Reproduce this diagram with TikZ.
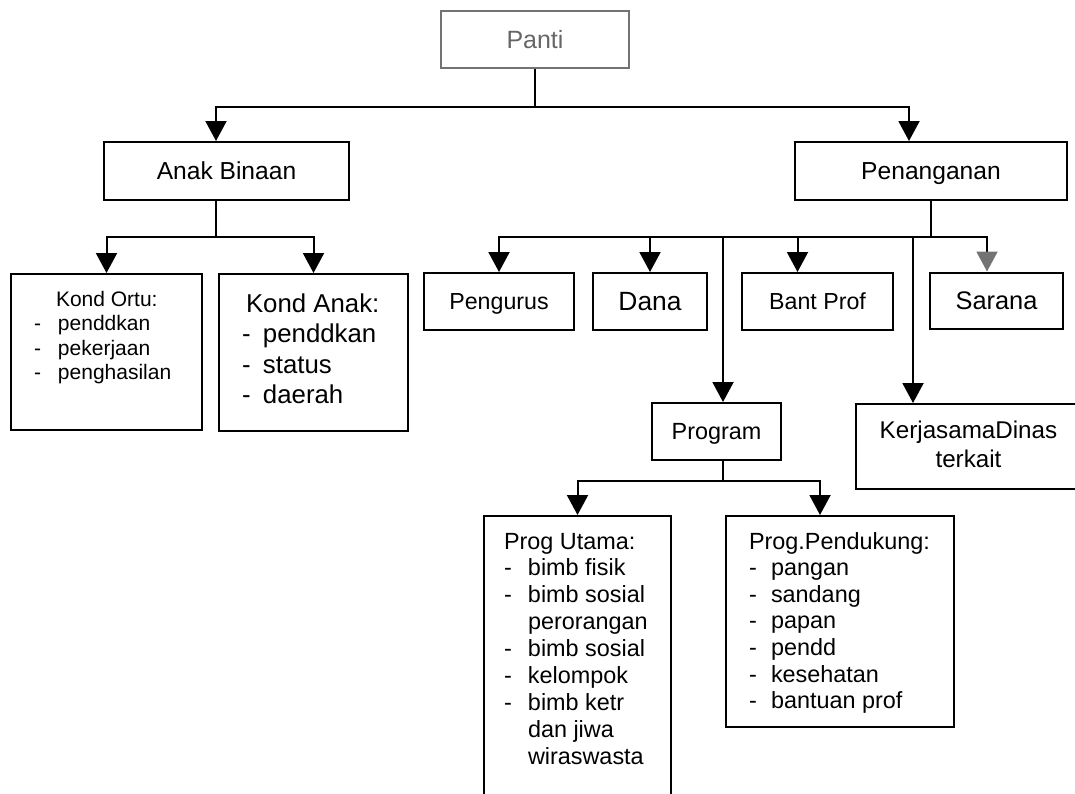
\documentclass[tikz,border=0pt]{standalone}
\usepackage{fontspec}
\setmainfont{Liberation Sans}
\usetikzlibrary{arrows.meta}
\newcommand{\li}[2][12pt]{\makebox[#1][l]{-}#2}

\begin{document}
\begin{tikzpicture}[x=0.5pt, y=-0.5pt,
    box/.style={draw, line width=1pt, inner sep=0pt, text depth=0pt, font=\fontsize{12.3pt}{14pt}\selectfont},
    listbox/.style={draw, line width=1pt, inner sep=0pt, anchor=north west},
    wire/.style={line width=1pt},
    arrow/.style={wire, -{Triangle[width=10.5pt,length=10pt]}}
    ]
  \useasboundingbox (0,0) rectangle (1075,793);

  % top
  \node[box, draw=black!55, text=black!60, minimum width=94pt, minimum height=28.5pt,
        font=\fontsize{12.5pt}{14pt}\selectfont] (panti) at (535,39.5) {Panti};
  \node[box, minimum width=122.5pt, minimum height=29pt] (anak) at (226.5,171) {Anak Binaan};
  \node[box, minimum width=136pt, minimum height=29pt] (penang) at (931,171) {Penanganan};

  % anak binaan
  \node[listbox] (ortu) at (10,273) {\parbox[c][78pt][t]{95.5pt}{\raggedright\leftskip=11.5pt
    \fontsize{10.5pt}{12.25pt}\selectfont
    \rule{0pt}{16pt}\hspace*{11pt}Kond Ortu:\\
    \li{penddkan}\\ \li{pekerjaan}\\ \li{penghasilan}}};
  \node[listbox] (kanak) at (218,273) {\parbox[c][78.5pt][t]{94.5pt}{\raggedright\leftskip=11.5pt
    \fontsize{12.9pt}{15.3pt}\selectfont
    \rule{0pt}{19pt}\hspace*{2pt}Kond Anak:\\
    \li[10.5pt]{penddkan}\\ \li[10.5pt]{status}\\ \li[10.5pt]{daerah}}};

  % penanganan
  \node[box, minimum width=75pt, minimum height=28.5pt,
        font=\fontsize{11.6pt}{14pt}\selectfont] (pengurus) at (499,301.5) {Pengurus};
  \node[box, minimum width=57pt, minimum height=28.5pt,
        font=\fontsize{13.2pt}{15pt}\selectfont] (dana) at (650,301.5) {Dana};
  \node[box, minimum width=75.5pt, minimum height=28.5pt,
        font=\fontsize{11.6pt}{14pt}\selectfont] (bant) at (817.5,301.5) {Bant Prof};
  \node[box, minimum width=66.5pt, minimum height=28pt,
        font=\fontsize{12.7pt}{15pt}\selectfont] (sarana) at (996.5,300.5) {Sarana};
  \node[box, minimum width=64.5pt, minimum height=28.5pt,
        font=\fontsize{11.7pt}{14pt}\selectfont] (program) at (716.5,431.5) {Program};
  \node[listbox] (kerja) at (855,403) {\parbox[c][42.5pt][t]{112.5pt}{\centering
    \fontsize{12.1pt}{14.5pt}\selectfont
    \rule{0pt}{17pt}KerjasamaDinas\\terkait}};

  % program
  \node[listbox] (utama) at (483,515) {\parbox[c][142.5pt][t]{93.5pt}{\raggedright\leftskip=10pt
    \fontsize{11.7pt}{13.45pt}\selectfont
    \rule{0pt}{16.5pt}Prog Utama:\\
    \li{bimb fisik}\\ \li{bimb sosial}\\ \hspace*{12pt}perorangan\\ \li{bimb sosial}\\
    \li{kelompok}\\ \li{bimb ketr}\\ \hspace*{12pt}dan jiwa\\ \hspace*{12pt}wiraswasta}};
  \node[listbox] (dukung) at (725,515) {\parbox[c][105.5pt][t]{114pt}{\raggedright\leftskip=11.5pt
    \fontsize{11.7pt}{13.3pt}\selectfont
    \rule{0pt}{16.5pt}Prog.Pendukung:\\
    \li[11pt]{pangan}\\ \li[11pt]{sandang}\\ \li[11pt]{papan}\\ \li[11pt]{pendd}\\
    \li[11pt]{kesehatan}\\ \li[11pt]{bantuan prof}}};

  % connectors
  \draw[wire] (panti.south) -- ++(0,38) coordinate (j0);
  \draw[arrow] (j0) -| ([xshift=-5.25pt]anak.north);
  \draw[arrow] (j0) -| ([xshift=-11pt]penang.north);

  \draw[wire] ([xshift=-5.25pt]anak.south) -- ++(0,36) coordinate (j1);
  \draw[arrow] (j1) -| (ortu.north);
  \draw[arrow] (j1) -| (kanak.north);

  \draw[wire] (penang.south) -- ++(0,36) coordinate (j2);
  \draw[arrow] (j2) -| (pengurus.north);
  \draw[arrow] (j2) -| (dana.north);
  \draw[arrow] (j2) -| ([xshift=3.25pt]program.north);
  \draw[arrow] (j2) -| ([xshift=-10pt]bant.north);
  \draw[arrow] (j2) -| ([xshift=-27.75pt]kerja.north);
  \draw[wire, -{Triangle[width=10.5pt,length=10pt,color=black!55]}] (j2) -| ([xshift=-4.75pt]sarana.north);

  \draw[wire] ([xshift=3.25pt]program.south) -- ++(0,20) coordinate (j3);
  \draw[arrow] (j3) -| (utama.north);
  \draw[arrow] (j3) -| ([xshift=-10pt]dukung.north);
\end{tikzpicture}
\end{document}
